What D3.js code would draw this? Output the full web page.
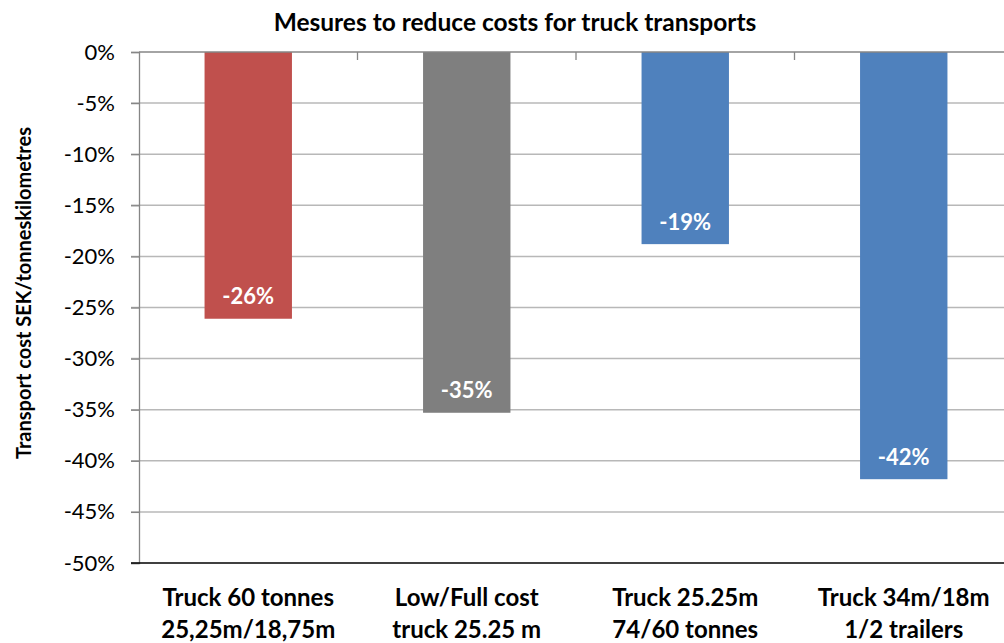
<!DOCTYPE html>
<html>
<head>
<meta charset="utf-8">
<script src="https://cdn.jsdelivr.net/npm/d3@7"></script>
<style>
  html, body { margin: 0; padding: 0; background: #fff; }
  svg { display: block; font-family: Lato, "Open Sans", sans-serif; }
</style>
</head>
<body>
<svg id="chart" width="1004" height="643"></svg>
<script>
// Cost reduction per measure (share of transport cost per tonne-km)
const categories = [
  ["Truck 60 tonnes", "25,25m/18,75m"],
  ["Low/Full cost", "truck 25.25 m"],
  ["Truck 25.25m", "74/60 tonnes"],
  ["Truck 34m/18m", "1/2 trailers"]
];
const values = [-0.261, -0.353, -0.188, -0.418];
const barColors = ["#C0504D", "#7F7F7F", "#4F81BD", "#4F81BD"];
const yTicks = [0, -0.05, -0.10, -0.15, -0.20, -0.25, -0.30, -0.35, -0.40, -0.45, -0.50];

const svg = d3.select("#chart");
const plot = { left: 139, right: 1013, top: 52, bottom: 563 };

const x = d3.scaleBand()
  .domain(d3.range(categories.length))
  .range([plot.left, plot.right])
  .paddingInner(0.6)
  .paddingOuter(0.3);

const y = d3.scaleLinear()
  .domain([0, -0.5])
  .range([plot.top, plot.bottom]);

// percent format with a plain hyphen as minus sign
const locale = d3.formatLocale({
  decimal: ".", thousands: ",", grouping: [3], currency: ["", ""], minus: "-"
});
const pct = locale.format(".0%");

// horizontal gridlines
svg.append("g")
  .selectAll("line")
  .data(yTicks.filter(d => d !== 0 && d !== -0.5))
  .join("line")
  .attr("x1", plot.left - 8)
  .attr("x2", plot.right)
  .attr("y1", d => y(d))
  .attr("y2", d => y(d))
  .attr("stroke", "#b8b8b8")
  .attr("stroke-width", 1.5);

// value axis with labels
const yAxis = svg.append("g")
  .attr("transform", `translate(${plot.left},0)`)
  .call(d3.axisLeft(y).tickValues(yTicks).tickFormat(pct).tickSize(8).tickPadding(16));
yAxis.select(".domain").attr("stroke", "#868686").attr("stroke-width", 1.3);
yAxis.selectAll(".tick line").attr("stroke", "#868686").attr("stroke-width", 1.3);
yAxis.selectAll(".tick text")
  .attr("font-family", "Lato, sans-serif")
  .attr("font-size", 22)
  .attr("fill", "#000");

// bars
svg.append("g")
  .selectAll("rect")
  .data(values)
  .join("rect")
  .attr("x", (d, i) => x(i))
  .attr("y", y(0))
  .attr("width", x.bandwidth())
  .attr("height", d => y(d) - y(0))
  .attr("fill", (d, i) => barColors[i]);

// zero line with category separators
const bandEdges = d3.range(1, categories.length).map(i => x(i) - x.step() * x.paddingInner() / 2);
svg.append("line")
  .attr("x1", plot.left).attr("x2", plot.right)
  .attr("y1", y(0)).attr("y2", y(0))
  .attr("stroke", "#868686").attr("stroke-width", 1.5);
svg.append("g")
  .selectAll("line")
  .data(bandEdges)
  .join("line")
  .attr("x1", d => d).attr("x2", d => d)
  .attr("y1", y(0)).attr("y2", y(0) + 8)
  .attr("stroke", "#868686").attr("stroke-width", 1.3);

// bottom line
svg.append("line")
  .attr("x1", plot.left - 8).attr("x2", plot.right)
  .attr("y1", y(-0.5)).attr("y2", y(-0.5))
  .attr("stroke", "#000").attr("stroke-width", 1.3);

// value labels inside bar ends
svg.append("g")
  .selectAll("text")
  .data(values)
  .join("text")
  .attr("x", (d, i) => x(i) + x.bandwidth() / 2)
  .attr("y", d => y(d) - 22)
  .attr("dy", "0.35em")
  .attr("text-anchor", "middle")
  .attr("font-weight", "bold")
  .attr("font-size", 22)
  .attr("fill", "#fff")
  .text(d => pct(d));

// category labels
const cat = svg.append("g")
  .selectAll("text")
  .data(categories)
  .join("text")
  .attr("text-anchor", "middle")
  .attr("font-weight", "bold")
  .attr("font-size", 24)
  .attr("fill", "#000");
cat.selectAll("tspan")
  .data(d => d)
  .join("tspan")
  .attr("x", function () {
    const i = categories.indexOf(d3.select(this.parentNode).datum());
    return x(i) + x.bandwidth() / 2;
  })
  .attr("y", (d, j) => 606 + j * 32)
  .text(d => d);

// title
svg.append("text")
  .attr("x", 515)
  .attr("y", 31)
  .attr("text-anchor", "middle")
  .attr("font-weight", "bold")
  .attr("font-size", 24.5)
  .attr("fill", "#000")
  .text("Mesures to reduce costs for truck transports");

// value axis title
svg.append("text")
  .attr("transform", "translate(31,293) rotate(-90)")
  .attr("text-anchor", "middle")
  .attr("font-weight", "bold")
  .attr("font-size", 20)
  .attr("fill", "#000")
  .text("Transport cost SEK/tonneskilometres");
</script>
</body>
</html>
